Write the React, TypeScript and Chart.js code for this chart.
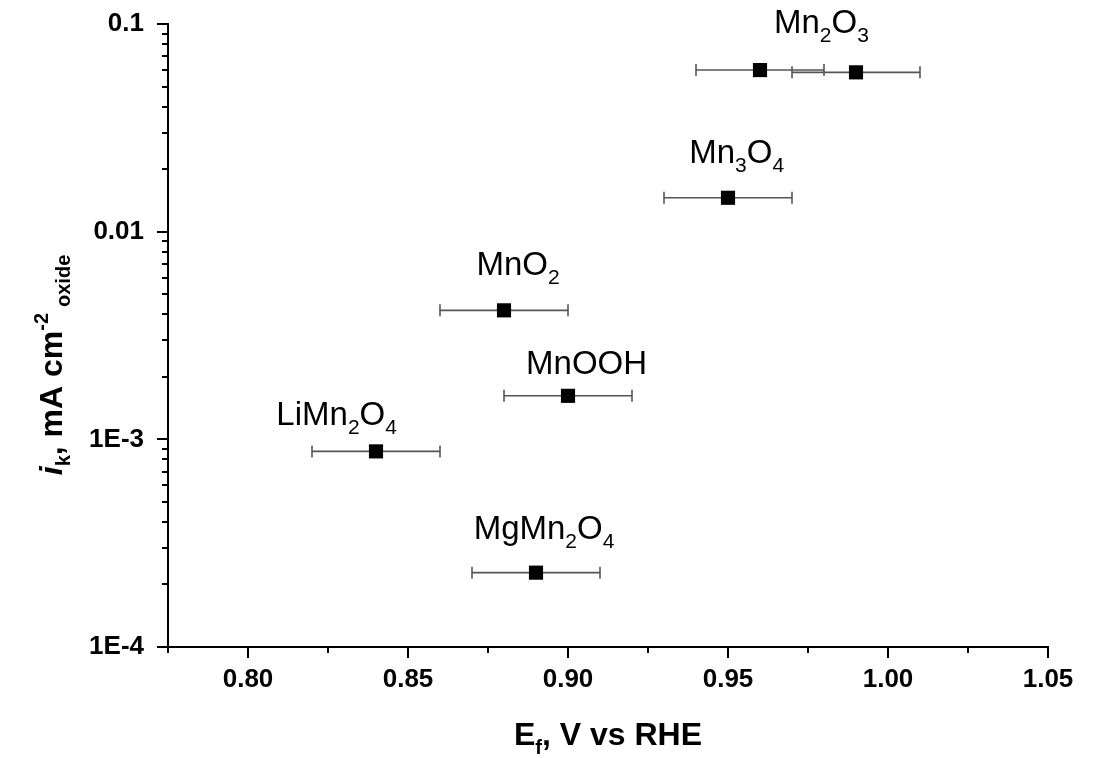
import React, { useEffect, useRef } from 'react';
import { Chart, registerables } from 'chart.js';

Chart.register(...registerables);

// ---- data ----
const POINT_NAMES = ['Mn2O3', 'Mn2O3', 'Mn3O4', 'MnO2', 'MnOOH', 'LiMn2O4', 'MgMn2O4'];
const E_F = [0.96, 0.99, 0.95, 0.88, 0.90, 0.84, 0.89];
const I_K = [0.0600, 0.0585, 0.01456, 0.00418, 0.00162, 0.000875, 0.000228];
const E_F_ERR = [0.02, 0.02, 0.02, 0.02, 0.02, 0.02, 0.02];

const LABEL_TEXT = ['Mn2O3', 'Mn3O4', 'MnO2', 'MnOOH', 'LiMn2O4', 'MgMn2O4'];
const LABEL_X = [0.9792, 0.9527, 0.8844, 0.9058, 0.8277, 0.8925];
const LABEL_Y = [0.0902, 0.02138, 0.00617, 0.002073, 0.001168, 0.000333];

const X_MIN = 0.775;
const X_MAX = 1.05;
const X_TICKS = [0.8, 0.85, 0.9, 0.95, 1.0, 1.05];
const X_TICK_LABELS = ['0.80', '0.85', '0.90', '0.95', '1.00', '1.05'];
const X_MINOR = [0.775, 0.825, 0.875, 0.925, 0.975, 1.025];

const Y_MIN = 1e-4;
const Y_MAX = 0.1;
const Y_TICKS = [1e-4, 1e-3, 1e-2, 1e-1];
const Y_TICK_LABELS = ['1E-4', '1E-3', '0.01', '0.1'];

const FONT = '"Liberation Sans", Arial, Helvetica, sans-serif';

type Part = { t: string; size: number; dy?: number; italic?: boolean; bold?: boolean; gap?: number };

function fontOf(p: Part) {
  return `${p.italic ? 'italic ' : ''}${p.bold ? 'bold ' : ''}${p.size}px ${FONT}`;
}

function richWidth(ctx: CanvasRenderingContext2D, parts: Part[]) {
  let w = 0;
  for (const p of parts) {
    ctx.font = fontOf(p);
    w += (p.gap || 0) + ctx.measureText(p.t).width;
  }
  return w;
}

function drawRich(ctx: CanvasRenderingContext2D, parts: Part[], x: number, y: number) {
  const w = richWidth(ctx, parts);
  let cx = x - w / 2;
  ctx.textBaseline = 'alphabetic';
  ctx.textAlign = 'left';
  for (const p of parts) {
    ctx.font = fontOf(p);
    cx += p.gap || 0;
    ctx.fillText(p.t, cx, y + (p.dy || 0));
    cx += ctx.measureText(p.t).width;
  }
}

function formulaParts(s: string): Part[] {
  const parts: Part[] = [];
  const re = /(\d+|\D+)/g;
  let m: RegExpExecArray | null;
  while ((m = re.exec(s))) {
    if (/\d/.test(m[1])) parts.push({ t: m[1], size: 21, dy: 9 });
    else parts.push({ t: m[1], size: 33 });
  }
  return parts;
}

const Y_TITLE: Part[] = [
  { t: 'i', size: 32, bold: true, italic: true },
  { t: 'k', size: 20, bold: true, dy: 8 },
  { t: ', mA cm', size: 32, bold: true },
  { t: '-2', size: 20, bold: true, dy: -14 },
  { t: 'oxide', size: 20, bold: true, dy: 8, gap: 6 },
];

const X_TITLE: Part[] = [
  { t: 'E', size: 32, bold: true },
  { t: 'f', size: 20, bold: true, dy: 9 },
  { t: ', V vs RHE', size: 32, bold: true },
];

const customPlugin = {
  id: 'customDraw',
  beforeDatasetsDraw(chart: any) {
    const { ctx, scales } = chart;
    const xs = scales.x;
    const ys = scales.y;
    ctx.save();
    ctx.strokeStyle = '#555555';
    ctx.lineWidth = 1.6;
    E_F.forEach((v, i) => {
      const py = ys.getPixelForValue(I_K[i]);
      const x1 = xs.getPixelForValue(v - E_F_ERR[i]);
      const x2 = xs.getPixelForValue(v + E_F_ERR[i]);
      ctx.beginPath();
      ctx.moveTo(x1, py);
      ctx.lineTo(x2, py);
      ctx.moveTo(x1, py - 6);
      ctx.lineTo(x1, py + 6);
      ctx.moveTo(x2, py - 6);
      ctx.lineTo(x2, py + 6);
      ctx.stroke();
    });
    ctx.restore();
  },
  afterDraw(chart: any) {
    const { ctx, chartArea, scales } = chart;
    const xs = scales.x;
    const ys = scales.y;
    const { left, right, top, bottom } = chartArea;
    ctx.save();
    ctx.strokeStyle = '#000';
    ctx.lineWidth = 2;
    ctx.lineCap = 'square';
    ctx.beginPath();
    ctx.moveTo(left, top);
    ctx.lineTo(left, bottom);
    ctx.lineTo(right, bottom);
    ctx.stroke();
    ctx.lineCap = 'butt';
    ctx.beginPath();
    X_TICKS.forEach((v) => {
      const px = Math.round(xs.getPixelForValue(v));
      ctx.moveTo(px, bottom);
      ctx.lineTo(px, bottom + 11);
    });
    X_MINOR.forEach((v) => {
      const px = Math.round(xs.getPixelForValue(v));
      ctx.moveTo(px, bottom);
      ctx.lineTo(px, bottom + 6);
    });
    Y_TICKS.forEach((v) => {
      const py = Math.round(ys.getPixelForValue(v));
      ctx.moveTo(left, py);
      ctx.lineTo(left - 11, py);
    });
    for (let e = -4; e < -1; e++) {
      for (let k = 2; k <= 9; k++) {
        const py = Math.round(ys.getPixelForValue(k * Math.pow(10, e)));
        ctx.moveTo(left, py);
        ctx.lineTo(left - 6, py);
      }
    }
    ctx.stroke();

    // annotations
    ctx.fillStyle = '#000';
    LABEL_TEXT.forEach((s, i) => {
      drawRich(ctx, formulaParts(s), xs.getPixelForValue(LABEL_X[i]), ys.getPixelForValue(LABEL_Y[i]));
    });

    // axis titles
    drawRich(ctx, X_TITLE, (left + right) / 2, 745);
    ctx.save();
    ctx.translate(62, 365);
    ctx.rotate(-Math.PI / 2);
    drawRich(ctx, Y_TITLE, 0, 0);
    ctx.restore();
    ctx.restore();
  },
};

export default function App() {
  const ref = useRef<HTMLCanvasElement | null>(null);
  useEffect(() => {
    if (!ref.current) return;
    const chart = new Chart(ref.current, {
      type: 'scatter',
      data: {
        datasets: [
          {
            label: 'ik',
            data: E_F.map((x, i) => ({ x, y: I_K[i], name: POINT_NAMES[i] })) as any,
            pointStyle: 'rect',
            pointRadius: 10,
            pointHoverRadius: 10,
            backgroundColor: '#000',
            borderWidth: 0,
            showLine: false,
          },
        ],
      },
      options: {
        animation: false,
        responsive: false,
        devicePixelRatio: 1,
        events: [],
        layout: { padding: { left: 0, top: 24, right: 48, bottom: 0 } },
        plugins: { legend: { display: false }, tooltip: { enabled: false } },
        scales: {
          x: {
            type: 'linear',
            min: X_MIN,
            max: X_MAX,
            grid: { display: false, drawTicks: false },
            border: { display: false },
            afterBuildTicks: (s: any) => {
              s.ticks = X_TICKS.map((v) => ({ value: v }));
            },
            afterFit: (s: any) => {
              s.height = 111;
              s.paddingLeft = 0;
              s.paddingRight = 0;
            },
            ticks: {
              autoSkip: false,
              maxRotation: 0,
              padding: 17,
              color: '#000',
              font: { family: FONT, size: 26, weight: 'bold' },
              callback: (_v: any, i: number) => X_TICK_LABELS[i],
            },
          },
          y: {
            type: 'logarithmic',
            min: Y_MIN,
            max: Y_MAX,
            grid: { display: false, drawTicks: false },
            border: { display: false },
            afterBuildTicks: (s: any) => {
              s.ticks = Y_TICKS.map((v) => ({ value: v }));
            },
            afterFit: (s: any) => {
              s.width = 168;
              s.paddingTop = 0;
              s.paddingBottom = 0;
            },
            ticks: {
              autoSkip: false,
              padding: 24,
              color: '#000',
              font: { family: FONT, size: 26, weight: 'bold' },
              callback: (_v: any, i: number) => Y_TICK_LABELS[i],
            },
          },
        },
      },
      plugins: [customPlugin],
    } as any);
    return () => chart.destroy();
  }, []);
  return (
    <div style={{ position: 'fixed', left: 0, top: 0, width: 1096, height: 758, background: '#fff' }}>
      <canvas ref={ref} width={1096} height={758} />
    </div>
  );
}
